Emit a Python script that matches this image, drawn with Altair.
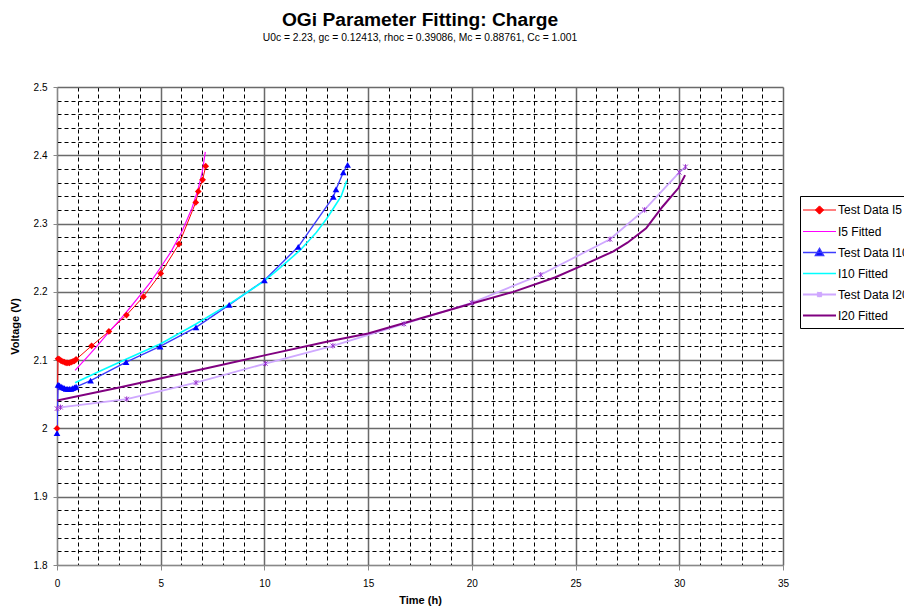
import altair as alt
import pandas as pd

FONT = "Liberation Sans"

SERIES = ["Test Data I5", "I5 Fitted", "Test Data I10", "I10 Fitted", "Test Data I20", "I20 Fitted"]
LINE_COLORS = ["#ff0000", "#ff00ff", "#3c3cff", "#00ffff", "#cfa8ff", "#800080"]
LINE_WIDTHS = [1, 2, 1, 2, 1.2, 2]

# Test data I5
i5_t = [0, 0.05, 0.12, 0.2, 0.28, 0.36, 0.44, 0.52, 0.6, 0.68, 0.76, 0.84, 0.92,
        1.67, 2.5, 3.35, 4.17, 5.0, 5.88, 6.69, 6.81, 7.02, 7.17]
i5_v = [2.0, 2.102, 2.101, 2.099, 2.098, 2.097, 2.096, 2.096, 2.096, 2.097, 2.098, 2.099, 2.101,
        2.121, 2.142, 2.166, 2.193, 2.227, 2.270, 2.331, 2.347, 2.364, 2.384]
# I5 fitted
i5f_t = [0.87, 1.5, 2.0, 2.5, 3.0, 3.5, 4.0, 4.5, 5.0, 5.5, 6.0, 6.5, 6.8, 7.0, 7.15]
i5f_v = [2.085, 2.106, 2.123, 2.141, 2.158, 2.176, 2.195, 2.214, 2.236, 2.259, 2.287, 2.322, 2.350, 2.375, 2.405]
# Test data I10
i10_t = [0, 0.05, 0.12, 0.2, 0.28, 0.36, 0.44, 0.52, 0.6, 0.68, 0.76, 0.84, 0.92,
         1.62, 3.33, 4.97, 6.7, 8.3, 10.0, 11.63, 13.32, 13.45, 13.8, 14.01]
i10_v = [1.993, 2.064, 2.063, 2.061, 2.060, 2.059, 2.058, 2.058, 2.058, 2.058, 2.059, 2.060, 2.061,
         2.070, 2.097, 2.120, 2.148, 2.181, 2.217, 2.266, 2.339, 2.350, 2.375, 2.386]
# I10 fitted
i10f_t = [0.87, 2.0, 3.3, 5.0, 6.7, 8.3, 10.0, 10.75, 11.72, 12.5, 13.0, 13.32, 13.7, 13.97]
i10f_v = [2.067, 2.083, 2.101, 2.124, 2.153, 2.182, 2.216, 2.235, 2.261, 2.287, 2.307, 2.322, 2.340, 2.363]
# Test data I20
i20_t = [0, 0.17, 3.36, 6.7, 10.05, 13.3, 16.73, 20.0, 23.32, 26.66, 28.32, 30.0, 30.3]
i20_v = [2.029, 2.031, 2.043, 2.067, 2.095, 2.121, 2.153, 2.184, 2.225, 2.277, 2.320, 2.375, 2.383]
# I20 fitted
i20f_t = [0, 3.0, 6.89, 10.0, 13.0, 15.0, 17.5, 20.0, 22.0, 24.0, 25.2, 26.8, 27.5, 28.4, 29.2, 29.96, 30.28]
i20f_v = [2.041, 2.060, 2.086, 2.107, 2.127, 2.139, 2.161, 2.183, 2.200, 2.221, 2.237, 2.259, 2.272,
          2.293, 2.325, 2.352, 2.371]

x_ticks = list(range(0, 36))
y_ticks = [round(1.8 + 0.02 * i, 2) for i in range(36)]

rows = []
for name, ts, vs in [("Test Data I5", i5_t, i5_v), ("I5 Fitted", i5f_t, i5f_v),
                     ("Test Data I10", i10_t, i10_v), ("I10 Fitted", i10f_t, i10f_v),
                     ("Test Data I20", i20_t, i20_v), ("I20 Fitted", i20f_t, i20f_v)]:
    for t, v in zip(ts, vs):
        rows.append({"series": name, "t": t, "v": v})
df = pd.DataFrame(rows)

MAJOR_X = "datum.value % 5 == 0"
MAJOR_Y = "abs(datum.value * 10 - round(datum.value * 10)) < 0.001"


def grid_props(test):
    return dict(
        grid=True,
        gridColor={"condition": {"test": test, "value": "#6a6a6a"}, "value": "#000000"},
        gridDash={"condition": {"test": test, "value": [1, 0]}, "value": [4, 3]},
        gridWidth={"condition": {"test": test, "value": 1.5}, "value": 1},
        tickOpacity={"condition": {"test": test, "value": 1}, "value": 0},
    )


x_axis = alt.Axis(values=x_ticks, title="Time (h)",
                  labelExpr=f"{MAJOR_X} ? datum.label : ''",
                  labelOverlap=False, labelFlush=False, tickSize=5, labelPadding=8,
                  titlePadding=6, **grid_props(MAJOR_X))
y_axis = alt.Axis(values=y_ticks, title="Voltage (V)",
                  labelExpr=f"{MAJOR_Y} ? toString(round(datum.value * 10) / 10) : ''",
                  labelOverlap=False, labelFlush=False, tickSize=4, labelPadding=6,
                  titlePadding=13, **grid_props(MAJOR_Y))

DIAMOND = "M-2.2,0H2.2M0,-0.55L0.55,0L0,0.55L-0.55,0Z"
TRIANGLE = "M-2.2,0H2.2M0,-0.55L0.55,0.4L-0.55,0.4Z"
STAR = "M-2.2,0H2.2M-0.3,-0.3L0.3,0.3M-0.3,0.3L0.3,-0.3M0,-0.35V0.35"
LINE = "M-2.2,0H2.2"


def pick(mapping, default):
    expr = ""
    for k, v in mapping.items():
        expr += f"datum.value == '{k}' ? {v} : "
    return alt.ExprRef(expr=expr + default)


legend = alt.Legend(
    title=None, orient="none", legendX=743, legendY=109,
    strokeColor="black", fillColor="white", padding=6,
    symbolSize=225, labelFont=FONT, labelFontSize=12, labelColor="black",
    rowPadding=6, labelLimit=300, symbolOffset=5, labelOffset=10,
    symbolType=pick({"Test Data I5": f"'{DIAMOND}'", "Test Data I10": f"'{TRIANGLE}'",
                     "Test Data I20": f"'{STAR}'"}, f"'{LINE}'"),
    symbolFillColor=pick({"Test Data I5": "'#ff0000'", "Test Data I10": "'#0000ff'"}, "'transparent'"),
    symbolStrokeWidth=alt.ExprRef(expr="indexof(datum.value, 'Fitted') >= 0 ? 2 : 1"),
)

base = alt.Chart(df).encode(
    x=alt.X("t:Q", scale=alt.Scale(domain=[0, 35], nice=False, zero=False), axis=x_axis),
    y=alt.Y("v:Q", scale=alt.Scale(domain=[1.8, 2.5], nice=False, zero=False), axis=y_axis),
)

lines = base.mark_line(clip=True).encode(
    stroke=alt.Stroke("series:N", scale=alt.Scale(domain=SERIES, range=LINE_COLORS), legend=legend),
    strokeWidth=alt.StrokeWidth("series:N", scale=alt.Scale(domain=SERIES, range=LINE_WIDTHS), legend=None),
)

pts5 = base.transform_filter(alt.datum.series == "Test Data I5").mark_point(
    shape="diamond", filled=True, color="#ff0000", size=45, opacity=1)
pts10 = base.transform_filter(alt.datum.series == "Test Data I10").mark_point(
    shape="triangle-up", filled=True, color="#0000ff", size=45, opacity=1)
pts20 = base.transform_filter(alt.datum.series == "Test Data I20").mark_point(
    shape="M-1,-1L1,1M-1,1L1,-1M0,-1.2V1.2", filled=False, stroke="#9933cc", size=20,
    strokeWidth=1, opacity=1)

chart = alt.layer(lines, pts5, pts10, pts20).properties(
    width=726, height=478,
    autosize=alt.AutoSizeParams(type="none"),
    padding={"left": 49, "top": 79, "right": 121, "bottom": 43},
    title=alt.TitleParams(
        "OGi Parameter Fitting: Charge",
        subtitle="U0c = 2.23, gc = 0.12413, rhoc = 0.39086, Mc = 0.88761, Cc = 1.001",
        font=FONT, fontSize=19.2, fontWeight="bold", color="black",
        subtitleFont=FONT, subtitleFontSize=10.3, subtitleColor="black",
        anchor="middle", offset=39, subtitlePadding=3,
    ),
).configure_view(stroke=None).configure_axis(
    labelFont=FONT, labelFontSize=11, labelColor="black",
    titleFont=FONT, titleFontSize=13, titleFontWeight="bold", titleColor="black",
    domainColor="black", tickColor="black", domainWidth=1,
).configure(background="white")

chart.save("out.html", embed_options={"renderer": "svg", "actions": False})
